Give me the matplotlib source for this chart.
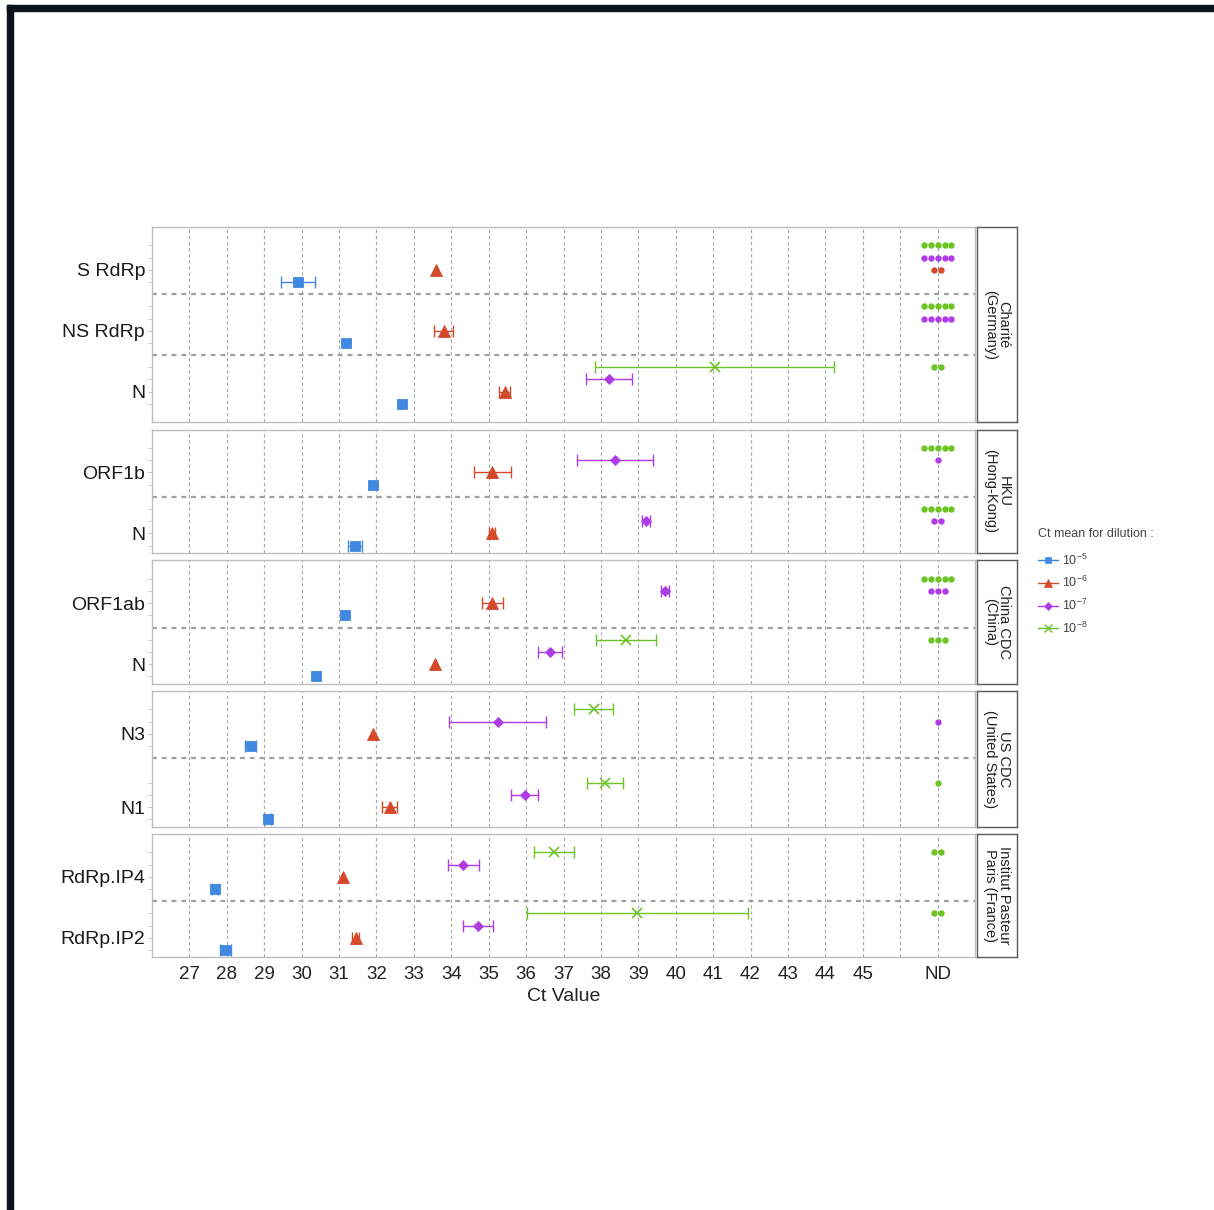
import matplotlib
matplotlib.use("Agg")
import matplotlib.pyplot as plt
from matplotlib.lines import Line2D
from matplotlib.patches import Rectangle
import numpy as np

plt.rcParams["font.family"] = ["Liberation Sans", "DejaVu Sans"]
plt.rcParams["mathtext.fontset"] = "custom"
plt.rcParams["mathtext.rm"] = "Liberation Sans"
plt.rcParams["mathtext.it"] = "Liberation Sans:italic"
plt.rcParams["mathtext.bf"] = "Liberation Sans:bold"

nan = np.nan

# ---- data -------------------------------------------------------------
panels = ["Charité\n(Germany)", "HKU\n(Hong-Kong)", "China CDC\n(China)",
          "US CDC\n(United States)", "Institut Pasteur\nParis (France)"]
assays = [["S RdRp", "NS RdRp", "N"], ["ORF1b", "N"], ["ORF1ab", "N"],
          ["N3", "N1"], ["RdRp.IP4", "RdRp.IP2"]]

x_ticks = list(range(27, 46))
x_tick_labels = [str(v) for v in x_ticks]
nd_label = "ND"

dilution_labels = [r"$\mathregular{10^{-5}}$", r"$\mathregular{10^{-6}}$",
                   r"$\mathregular{10^{-7}}$", r"$\mathregular{10^{-8}}$"]

# mean Ct / SD / number of non-detected replicates, assays in reading order
mean_1e5 = [29.9, 31.18, 32.68, 31.9, 31.43, 31.16, 30.39, 28.64, 29.1, 27.68, 27.96]
sd_1e5 = [0.45, 0.0, 0.0, 0.0, 0.18, 0.0, 0.0, 0.15, 0.08, 0.08, 0.15]
nd_1e5 = [0, 0, 0, 0, 0, 0, 0, 0, 0, 0, 0]

mean_1e6 = [33.6, 33.8, 35.43, 35.1, 35.1, 35.09, 33.56, 31.9, 32.36, 31.1, 31.44]
sd_1e6 = [0.0, 0.25, 0.15, 0.49, 0.08, 0.28, 0.0, 0.0, 0.2, 0.0, 0.1]
nd_1e6 = [2, 0, 0, 0, 0, 0, 0, 0, 0, 0, 0]

mean_1e7 = [nan, nan, 38.21, 38.38, 39.21, 39.71, 36.63, 35.24, 35.96, 34.32, 34.72]
sd_1e7 = [nan, nan, 0.62, 1.02, 0.1, 0.1, 0.32, 1.29, 0.36, 0.42, 0.4]
nd_1e7 = [5, 5, 0, 1, 2, 3, 0, 1, 0, 0, 0]

mean_1e8 = [nan, nan, 41.04, nan, nan, nan, 38.67, 37.81, 38.11, 36.75, 38.97]
sd_1e8 = [nan, nan, 3.2, nan, nan, nan, 0.8, 0.52, 0.49, 0.53, 2.95]
nd_1e8 = [5, 5, 2, 5, 5, 5, 3, 0, 1, 2, 2]

# ---- styling ----------------------------------------------------------
colors = ["#4189E0", "#D5492B", "#B03CE8", "#6CC524"]
markers = ["s", "^", "D", "x"]
msizes = [7.0, 8.0, 4.6, 7.5]
row_of_dilution = [3, 2, 1, 0]          # rows inside an assay band, top = 0

means = [mean_1e5, mean_1e6, mean_1e7, mean_1e8]
sds = [sd_1e5, sd_1e6, sd_1e7, sd_1e8]
nds = [nd_1e5, nd_1e6, nd_1e7, nd_1e8]

ND_X = 47
X_MIN, X_MAX = 26, 48
assay_spacing = [5, 5, 5, 6, 5]
bottom_pad = [1.5, 0.6, 0.6, 0.6, 0.6]
top_pad = 1.5
ROW_PX = 12.2
GAP_PX = 7.5
W, H = 1214, 1210

fig = plt.figure(figsize=(W / 100, H / 100), dpi=100)
fig.patch.set_facecolor("white")


def px_box(x0, y0, x1, y1):
    return [x0 / W, 1 - y1 / H, (x1 - x0) / W, (y1 - y0) / H]


grid_kw = dict(color="#a8a8a8", lw=0.8, ls=(0, (3, 2.5)), zorder=0)
div_kw = dict(color="#a0a0a0", lw=1.6, ls=(0, (2.2, 2.2)), zorder=0.5)

top = 227.0
flat = 0
axes = []
for p, (pname, alist) in enumerate(zip(panels, assays)):
    n = len(alist)
    bases = [top_pad + k * assay_spacing[p] for k in range(n)]
    y_max = bases[-1] + 3 + bottom_pad[p]
    h_px = y_max * ROW_PX
    ax = fig.add_axes(px_box(152, top, 975, top + h_px))
    axes.append(ax)
    ax.set_xlim(X_MIN, X_MAX)
    ax.set_ylim(y_max, 0)

    for xv in x_ticks + [46, ND_X]:
        ax.axvline(xv, **grid_kw)
    for b in bases[:-1]:
        ax.axhline(b + 4, **div_kw)

    for k, b in enumerate(bases):
        i = flat + k
        for d in range(4):
            y = b + row_of_dilution[d]
            m = means[d][i]
            s = sds[d][i]
            if not np.isnan(m):
                if s > 0:
                    ax.errorbar(m, y, xerr=s, fmt="none", ecolor=colors[d],
                                elinewidth=1.0, capsize=4.5, capthick=1.0, zorder=2)
                ax.plot(m, y, marker=markers[d], color=colors[d],
                        ms=msizes[d], mew=1.2 if markers[d] == "x" else 0.6,
                        mec=colors[d], ls="none", zorder=3)
            cnt = nds[d][i]
            if cnt:
                xs = ND_X + (np.arange(cnt) - (cnt - 1) / 2) * 0.185
                ax.plot(xs, np.full(cnt, y), "o", color=colors[d], ms=4.6,
                        mew=0, zorder=3)

    ax.set_yticks([b + 2 for b in bases])
    ax.set_yticklabels(alist, fontsize=14, color="#1a1a1a")
    minor = [b + r for b in bases for r in range(4)]
    ax.set_yticks(minor, minor=True)
    ax.tick_params(axis="y", which="both", length=3, color="#c8c8c8", pad=2)
    ax.tick_params(axis="x", length=0)
    if p < len(panels) - 1:
        ax.set_xticks([])
    else:
        ax.set_xticks(x_ticks + [ND_X])
        ax.set_xticklabels(x_tick_labels + [nd_label], fontsize=13.5, color="#222222")
        ax.tick_params(axis="x", pad=6)
        ax.set_xlabel("Ct Value", fontsize=14, color="#222222", labelpad=4)
    for sp in ax.spines.values():
        sp.set_color("#bdbdbd")
        sp.set_linewidth(1.0)

    # facet strip on the right
    sax = fig.add_axes(px_box(976.5, top, 1017, top + h_px))
    sax.set_xticks([])
    sax.set_yticks([])
    for sp in sax.spines.values():
        sp.set_color("#5a5a5a")
        sp.set_linewidth(1.0)
    sax.text(0.5, 0.5, pname, rotation=270, ha="center", va="center",
             fontsize=10.5, color="#222222", linespacing=1.0,
             transform=sax.transAxes)

    flat += n
    top += h_px + GAP_PX

# legend
handles = [Line2D([], [], color=colors[d], marker=markers[d], lw=1.0,
                  ms=[5, 6, 4, 6][d], mew=1.0 if markers[d] == "x" else 0.5)
           for d in range(4)]
leg = fig.legend(handles, dilution_labels, title="Ct mean for dilution :",
                 loc="upper left", bbox_to_anchor=(1033 / W, 1 - 523 / H),
                 frameon=False, fontsize=9, title_fontsize=9,
                 handlelength=1.6, handletextpad=0.3, labelspacing=0.6,
                 alignment="left", borderaxespad=0)
leg._legend_box.sep = 9
for t in leg.get_texts():
    t.set_color("#444444")
leg.get_title().set_color("#444444")

# dark frame along the top and left edges
frame_c = "#0c131b"
fig.patches.append(Rectangle((7 / W, 1 - 11 / H), 1 - 7 / W, 6 / H,
                             transform=fig.transFigure, color=frame_c, zorder=10))
fig.patches.append(Rectangle((7 / W, 0), 6 / W, 1 - 5 / H,
                             transform=fig.transFigure, color=frame_c, zorder=10))

fig.savefig("out.png", dpi=100, facecolor="white")
